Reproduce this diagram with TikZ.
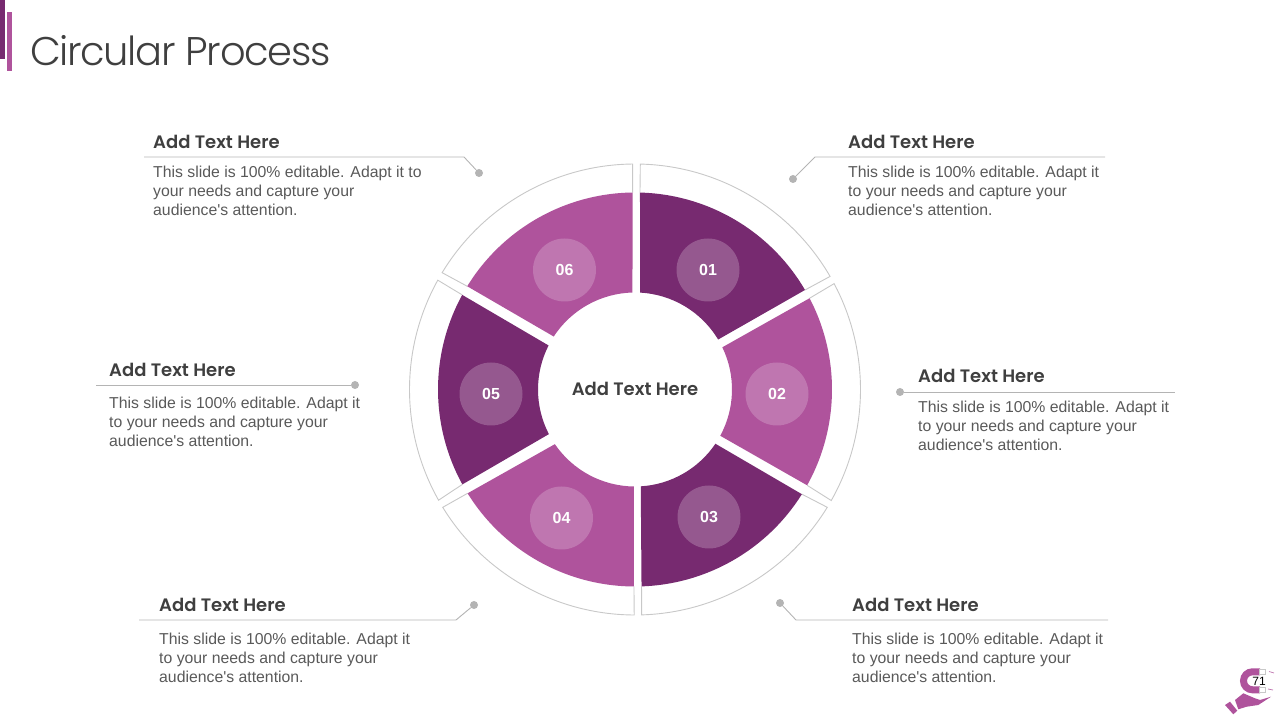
\documentclass[tikz,border=0pt]{standalone}
\usepackage{fontspec}
\setmainfont{Liberation Sans}
\newfontfamily\titlefont[LetterSpace=-3.3]{Poppins Light}
\newfontfamily\headfont{Poppins SemiBold}
\usetikzlibrary{positioning}
\definecolor{plumdark}{HTML}{772A70}
\definecolor{plumlight}{HTML}{AF539C}
\definecolor{plumdisc}{HTML}{95588F}
\definecolor{plumpale}{HTML}{BF76B0}
\definecolor{ringgray}{HTML}{C8C8C8}
\definecolor{leadgray}{HTML}{B4B4B4}
\definecolor{headgray}{HTML}{3F3F3F}
\definecolor{bodygray}{HTML}{595959}
\tikzset{
  headtext/.style={anchor=west,inner sep=0pt,font=\headfont\fontsize{18}{22}\selectfont,text=headgray},
  bodytext/.style={anchor=north west,inner sep=0pt,align=left,text=bodygray,
    font=\fontsize{15.8}{19}\selectfont},
  ring/.style={draw=ringgray,line width=0.9pt,fill=white},
  darkseg/.style={fill=plumdark},
  lightseg/.style={fill=plumlight},
  badge/.style={circle,minimum size=63pt,inner sep=0pt,text=white,
    font=\bfseries\fontsize{16}{19}\selectfont},
  leader/.style={draw=leadgray,line width=0.9pt},
  tipdot/.style={circle,fill=leadgray,minimum size=8pt,inner sep=0pt}
}
\begin{document}
\begin{tikzpicture}[x=1pt,y=1pt]
  \useasboundingbox (0,0) rectangle (1280,720);

  % title bars
  \fill[plumdark] (0,720) rectangle (5,661);
  \fill[plumlight] (7,708) rectangle (12,649);
  \node[anchor=west,inner sep=0pt,font=\titlefont\fontsize{40}{48}\selectfont,text=headgray]
    (title) at (30,669) {Circular Process};

  \begin{scope}[shift={(635,330.5)}]
    % outer rings
    \draw[ring] (30.34:197) -- (30.1:225.5) arc[start angle=30.1,end angle=88.65,radius=225.5] -- (88.55:197);
    \draw[ring] (27.6:197) -- (28:225.5) arc[start angle=28,end angle=-29.5,radius=225.5] -- (-29.1:197);
    \draw[ring] (-32.1:197) -- (-31.5:225.5) arc[start angle=-31.5,end angle=-88.3,radius=225.5] -- (-88.1:197);
    \draw[ring] (-90.3:197) -- (-90.2:225.5) arc[start angle=-90.2,end angle=-148.5,radius=225.5] -- (-148.2:197);
    \draw[ring] (208.8:197) -- (209.4:225.5) arc[start angle=209.4,end angle=151,radius=225.5] -- (151.3:197);
    \draw[ring] (148.4:197) -- (148.8:225.5) arc[start angle=148.8,end angle=90.6,radius=225.5] -- (90.7:197);
    % segments
    \fill[darkseg] (88.55:197) arc[start angle=88.55,end angle=30.34,radius=197] -- (31:97) arc[start angle=31,end angle=87,radius=97] -- cycle;
    \fill[lightseg] (27.6:197) arc[start angle=27.6,end angle=-29.1,radius=197] -- (-28.5:97) arc[start angle=-28.5,end angle=25.8,radius=97] -- cycle;
    \fill[darkseg] (-32.1:197) arc[start angle=-32.1,end angle=-88.1,radius=197] -- (-86.6:97) arc[start angle=-86.6,end angle=-34,radius=97] -- cycle;
    \fill[lightseg] (-90.3:197) arc[start angle=-90.3,end angle=-148.2,radius=197] -- (-145.7:97) arc[start angle=-145.7,end angle=-90.6,radius=97] -- cycle;
    \fill[darkseg] (208.8:197) arc[start angle=208.8,end angle=151.3,radius=197] -- (153:97) arc[start angle=153,end angle=207.4,radius=97] -- cycle;
    \fill[lightseg] (148.4:197) arc[start angle=148.4,end angle=90.7,radius=197] -- (91.5:97) arc[start angle=91.5,end angle=146.9,radius=97] -- cycle;
  \end{scope}

  \node[badge,fill=plumdisc] (one) at (708,450) {01};
  \node[badge,fill=plumpale] (two) at (777,326) {02};
  \node[badge,fill=plumdisc] (three) at (709,203) {03};
  \node[badge,fill=plumpale] (four) at (561.5,202) {04};
  \node[badge,fill=plumdisc] (five) at (491,326) {05};
  \node[badge,fill=plumpale] (six) at (564.5,450) {06};
  \node[headtext,anchor=center] (hub) at (635,331) {Add Text Here};

  % callouts
  \node[headtext] (tlhead) at (153,578) {Add Text Here};
  \node[bodytext,below=17pt of tlhead.south west,anchor=north west] (tlbody)
    {This slide is 100\% editable. Adapt it to\\your needs and capture your\\audience\textquotesingle s attention.};
  \node[headtext] (trhead) at (848,578) {Add Text Here};
  \node[bodytext,below=17pt of trhead.south west,anchor=north west] (trbody)
    {This slide is 100\% editable. Adapt it\\to your needs and capture your\\audience\textquotesingle s attention.};
  \node[headtext] (rhead) at (918,344) {Add Text Here};
  \node[bodytext,below=18pt of rhead.south west,anchor=north west] (rbody)
    {This slide is 100\% editable. Adapt it\\to your needs and capture your\\audience\textquotesingle s attention.};
  \node[headtext] (lhead) at (109,350) {Add Text Here};
  \node[bodytext,below=20pt of lhead.south west,anchor=north west] (lbody)
    {This slide is 100\% editable. Adapt it\\to your needs and capture your\\audience\textquotesingle s attention.};
  \node[headtext] (blhead) at (159,115) {Add Text Here};
  \node[bodytext,below=21pt of blhead.south west,anchor=north west] (blbody)
    {This slide is 100\% editable. Adapt it\\to your needs and capture your\\audience\textquotesingle s attention.};
  \node[headtext] (brhead) at (852,115) {Add Text Here};
  \node[bodytext,below=21pt of brhead.south west,anchor=north west] (brbody)
    {This slide is 100\% editable. Adapt it\\to your needs and capture your\\audience\textquotesingle s attention.};

  % leader lines
  \node[tipdot] (tldot) at (479,547) {};
  \node[tipdot] (trdot) at (793,541) {};
  \node[tipdot] (rdot) at (900,328) {};
  \node[tipdot] (ldot) at (355,335) {};
  \node[tipdot] (bldot) at (474,115) {};
  \node[tipdot] (brdot) at (780,117) {};
  \coordinate (tlstart) at (144,563);
  \coordinate (tlbend) at (464,563);
  \coordinate (trstart) at (1105,563);
  \coordinate (trbend) at (815,563);
  \coordinate (rend) at (1175,328);
  \coordinate (lstart) at (96,335);
  \coordinate (blstart) at (139,100);
  \coordinate (blbend) at (456,100);
  \coordinate (brstart) at (1108,100);
  \coordinate (brbend) at (796,100);
  \draw[leader] (tlstart) -- (tlbend) -- (tldot);
  \draw[leader] (trstart) -- (trbend) -- (trdot);
  \draw[leader] (rdot) -- (rend);
  \draw[leader] (lstart) -- (ldot);
  \draw[leader] (blstart) -- (blbend) -- (bldot);
  \draw[leader] (brstart) -- (brbend) -- (brdot);

  % logo and page number
  \draw[plumlight,line width=7pt] (1260,48.2) -- (1252.5,48.2) arc[start angle=90,end angle=270,radius=9] -- (1260,30.2);
  \draw[ringgray,fill=white,line width=0.5pt] (1259,45.5) rectangle (1265,51);
  \draw[ringgray,fill=white,line width=0.5pt] (1259,27.5) rectangle (1265,33);
  \draw[plumpale,line width=0.7pt] (1269,48.5) -- (1274,47);
  \draw[plumpale,line width=0.7pt] (1268,31) -- (1273,30);
  \fill[plumlight] (1235,20) -- (1243.3,26.7) -- (1255,21.7) -- (1260,20) -- (1271,23.3) -- (1258.3,15) -- (1246.7,13.3) -- (1238.3,10.7) -- cycle;
  \fill[plumlight] (1225,15) -- (1230,18.3) -- (1237.3,9.3) -- (1233.3,5.7) -- cycle;
  \node[inner sep=0pt,font=\fontsize{12}{14}\selectfont,text=black] (page) at (1259,39) {71};
\end{tikzpicture}
\end{document}
